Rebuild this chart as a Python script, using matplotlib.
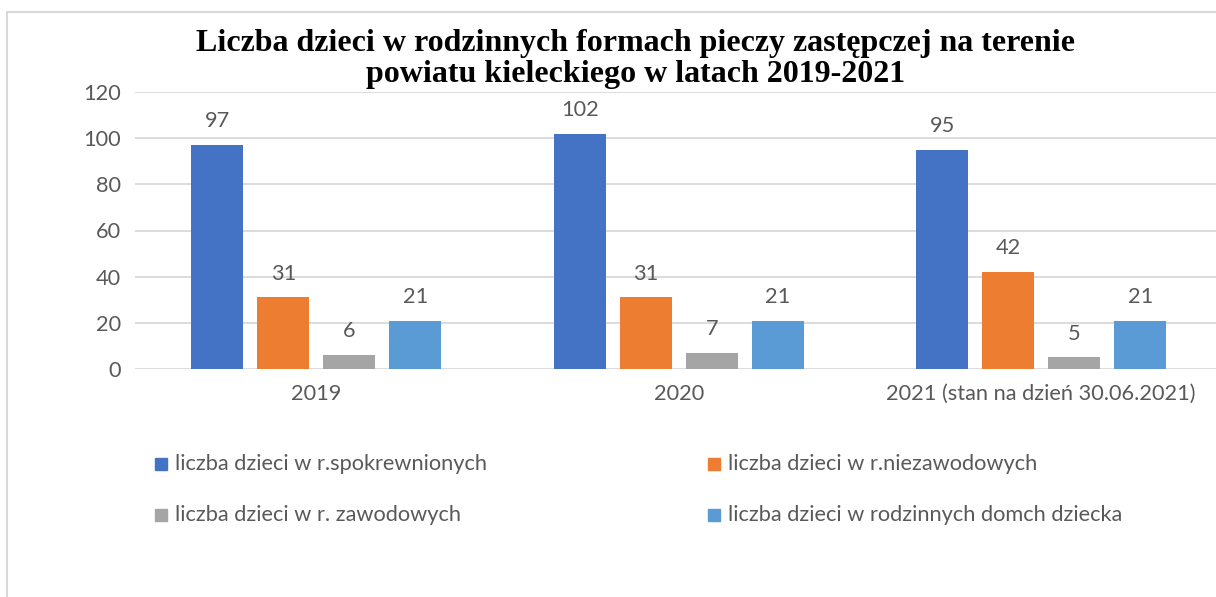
import numpy as np
import matplotlib
matplotlib.use("Agg")
import matplotlib.pyplot as plt
from matplotlib.patches import Rectangle

categories = ["2019", "2020", "2021 (stan na dzień 30.06.2021)"]
series_names = ["liczba dzieci w r.spokrewnionych",
                "liczba dzieci w r.niezawodowych",
                "liczba dzieci w r. zawodowych",
                "liczba dzieci w rodzinnych domch dziecka"]
spokrewnione = [97, 102, 95]
niezawodowe = [31, 31, 42]
zawodowe = [6, 7, 5]
domy_dziecka = [21, 21, 21]
colors = ["#4472C4", "#ED7D31", "#A5A5A5", "#5B9BD5"]

W, H = 1216, 597
fig = plt.figure(figsize=(W / 100, H / 100), dpi=100)
plt.rcParams['font.family'] = ['Lato', 'DejaVu Sans']
txt = "#595959"
fs = 15.7

# outer frame (cut off at right / bottom like the screenshot)
fig.add_artist(Rectangle((7 / W, -0.05), 1.1, 1 - 12 / H + 0.05, transform=fig.transFigure,
                         fill=False, edgecolor="#D9D9D9", lw=1.5))

# plot area runs past the right edge of the image
ax = fig.add_axes([135 / W, 1 - 369 / H, 1087.5 / W, (369 - 92) / H])
x = np.arange(len(categories))
bw = 52 / 362.5
step = 66 / 362.5
all_vals = [spokrewnione, niezawodowe, zawodowe, domy_dziecka]
for i, vals in enumerate(all_vals):
    pos = x + (i - 1.5) * step
    ax.bar(pos, vals, bw, color=colors[i], zorder=3)
    for p, v in zip(pos, vals):
        ax.text(p, v + 6, str(v), ha="center", va="bottom", fontsize=fs, color=txt)

ax.set_xlim(-0.5, 2.5)
ax.set_ylim(0, 120)
ax.set_yticks(np.arange(0, 121, 20))
ax.set_xticks(x)
ax.set_xticklabels(categories)
ax.grid(axis="y", color="#D9D9D9", lw=1.3, zorder=0)
for s in ax.spines.values():
    s.set_visible(False)
ax.tick_params(length=0, labelsize=fs, labelcolor=txt, pad=10)
ax.tick_params(axis="x", pad=11)

fig.text(636 / W, 1 - 59 / H,
         "Liczba dzieci w rodzinnych formach pieczy zastępczej na terenie\npowiatu kieleckiego w latach 2019-2021",
         ha="center", va="center", fontsize=23, fontweight="bold",
         family=["Liberation Serif", "DejaVu Serif"], linespacing=1.08)

# legend, two columns
leg_x = [161, 714]
leg_y = [464, 515]
for i, name in enumerate(series_names):
    lx = leg_x[i % 2]
    ly = leg_y[i // 2]
    fig.add_artist(Rectangle(((lx - 6) / W, 1 - (ly + 6) / H), 12 / W, 12 / H,
                             transform=fig.transFigure, color=colors[i]))
    fig.text((lx + 14) / W, 1 - ly / H, name, ha="left", va="center", fontsize=fs, color=txt)

fig.savefig("out.png", dpi=100)
